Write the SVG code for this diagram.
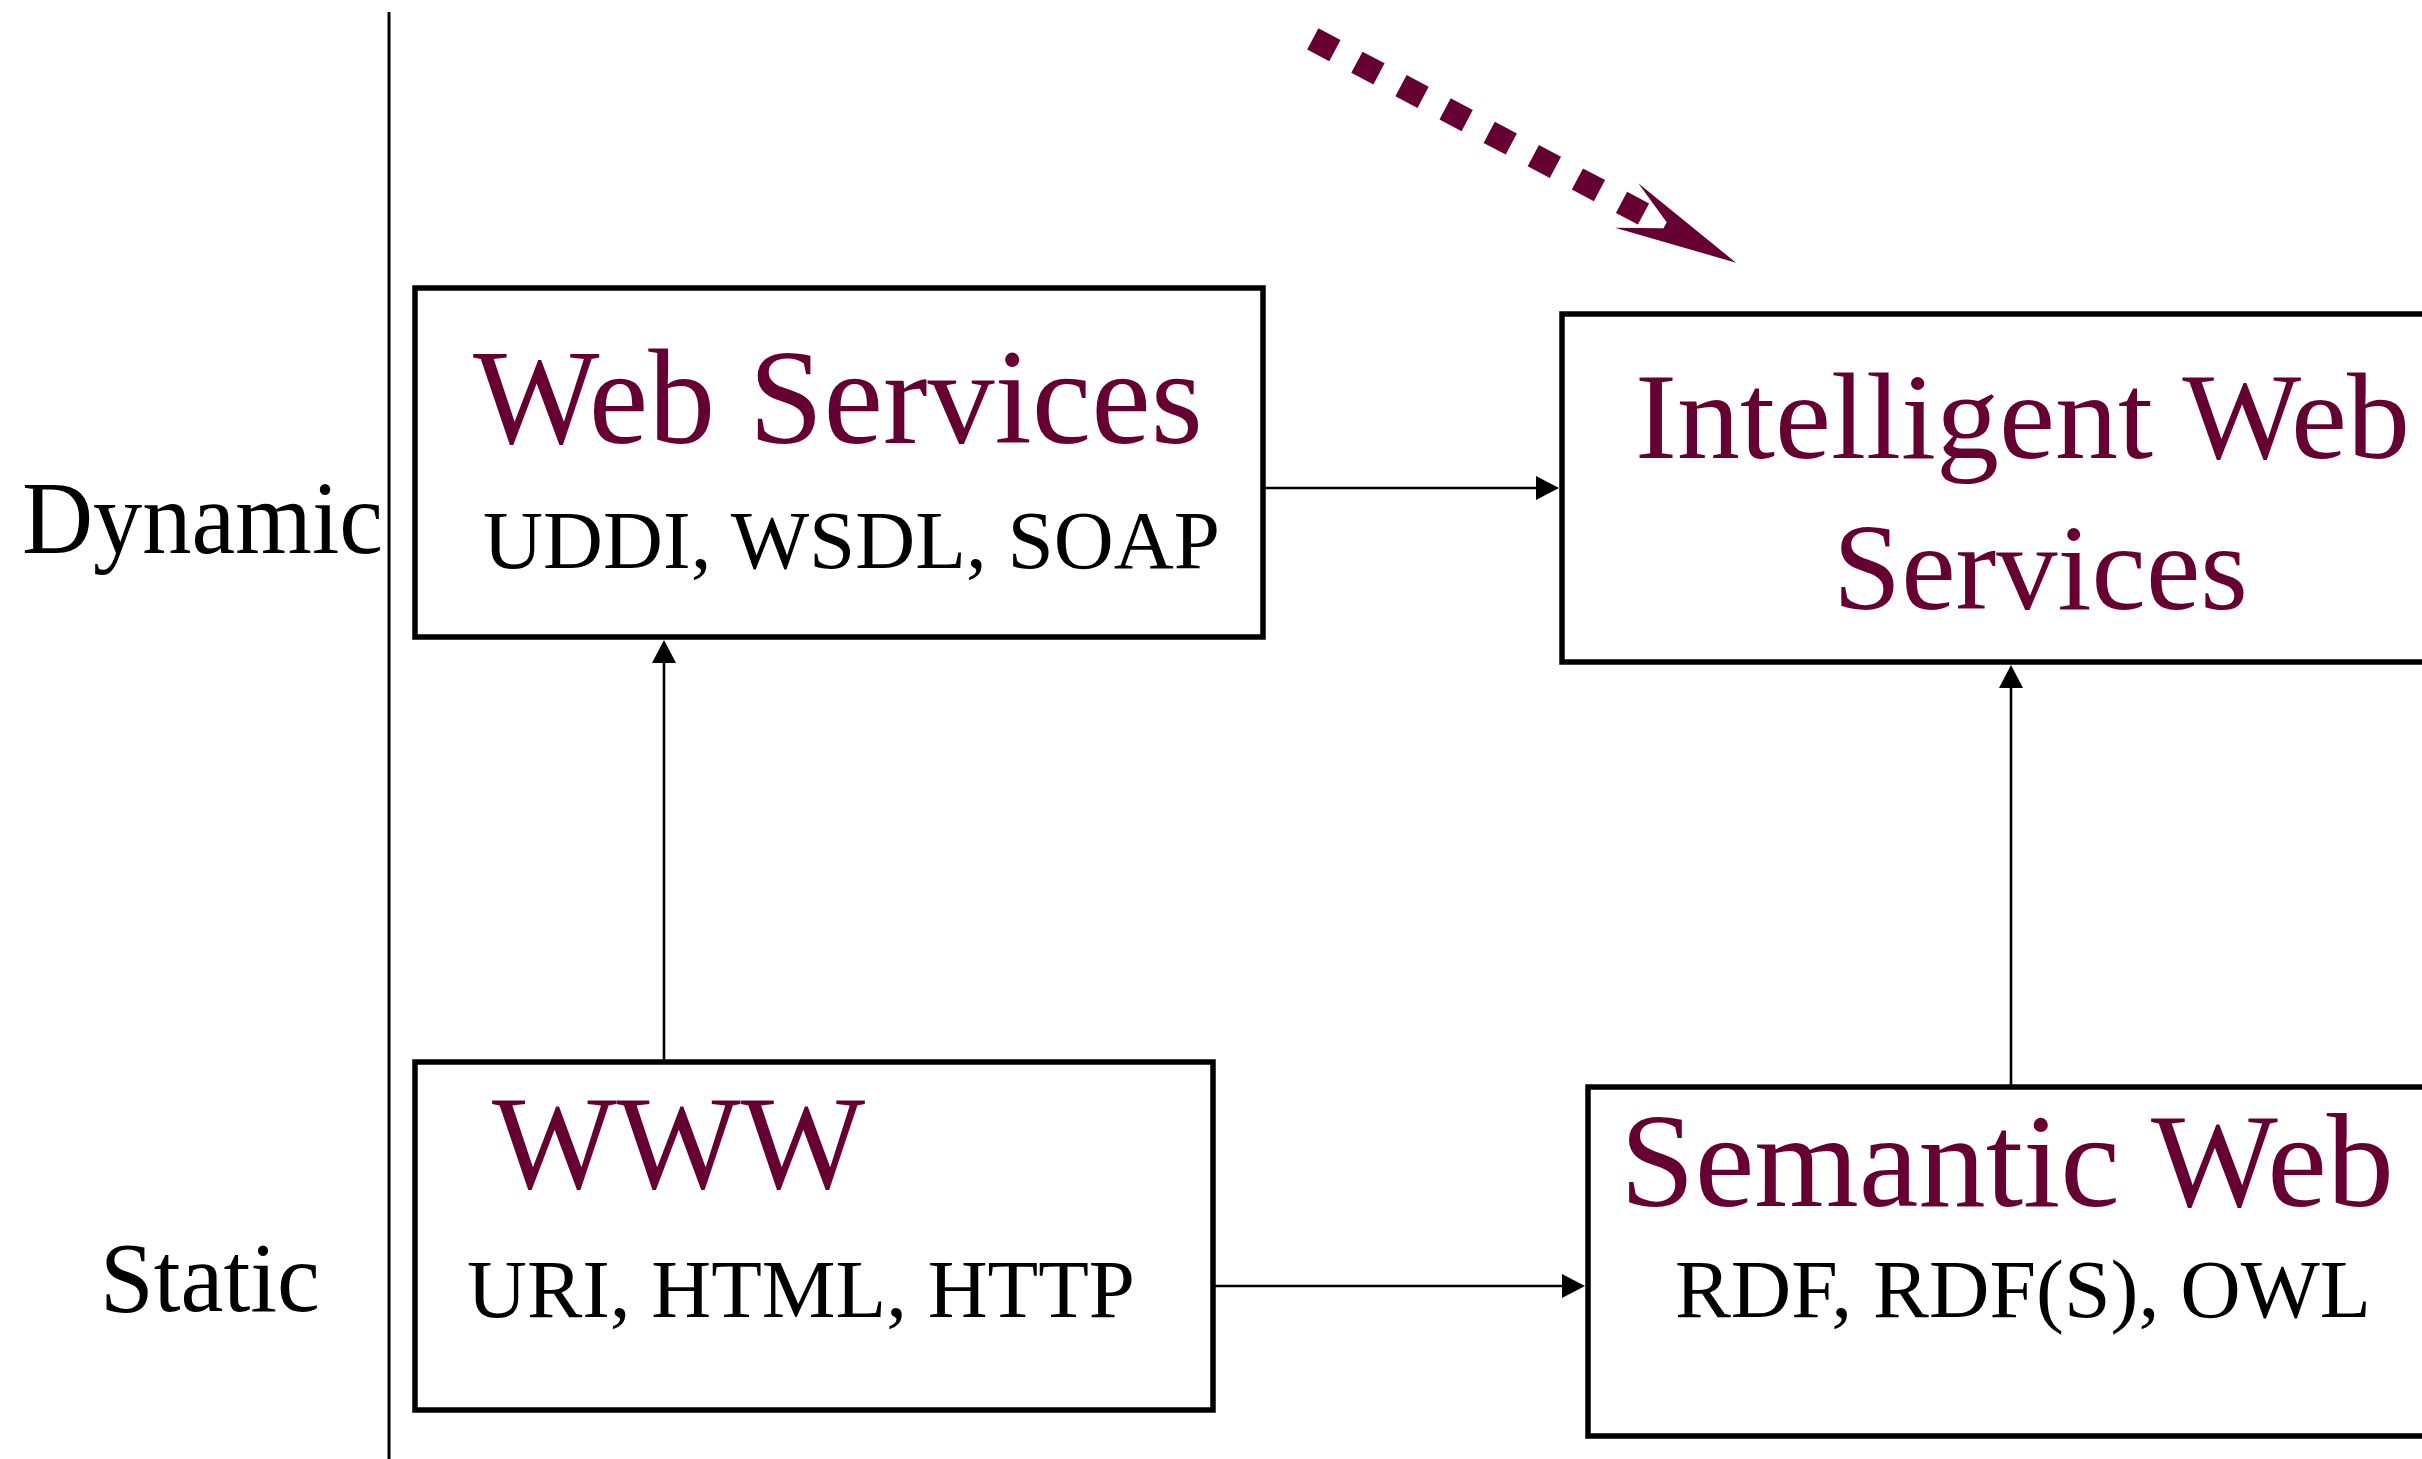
<svg xmlns="http://www.w3.org/2000/svg" width="2422" height="1459" viewBox="0 0 2422 1459">
<defs>
<style>
.box{fill:#ffffff;stroke:#000000;stroke-width:5.5}
.title{font-family:"Liberation Serif","Times New Roman",serif;fill:#660033}
.sub{font-family:"Liberation Serif","Times New Roman",serif;fill:#000000;font-size:83px}
.side{font-family:"Liberation Serif","Times New Roman",serif;fill:#000000}
.conn{stroke:#000000;stroke-width:2.6;fill:none}
.head{fill:#000000}
</style>
</defs>
<rect width="2422" height="1459" fill="#ffffff"/>
<g id="divider">
<line x1="389" y1="12" x2="389" y2="1459" stroke="#000" stroke-width="3"/>
</g>
<g id="label-dynamic">
<text class="side" x="22" y="553" font-size="104" textLength="361" lengthAdjust="spacingAndGlyphs">Dynamic</text>
</g>
<g id="label-static">
<text class="side" x="100" y="1311" font-size="100" textLength="220" lengthAdjust="spacingAndGlyphs">Static</text>
</g>
<g id="connectors">
<line class="conn" x1="664" y1="1062" x2="664" y2="660"/>
<polygon class="head" points="664,640 652,663 676,663"/>
<line class="conn" x1="1263" y1="488" x2="1539" y2="488"/>
<polygon class="head" points="1559,488 1536,476 1536,500"/>
<line class="conn" x1="1213" y1="1286" x2="1564" y2="1286"/>
<polygon class="head" points="1585,1286 1562,1274 1562,1298"/>
<line class="conn" x1="2011" y1="1087" x2="2011" y2="686"/>
<polygon class="head" points="2011,665 1999,688 2023,688"/>
</g>
<g id="node-web-services">
<rect class="box" x="415" y="288" width="848" height="349"/>
<text class="title" x="473" y="443" font-size="136" textLength="730" lengthAdjust="spacingAndGlyphs">Web Services</text>
<text class="sub" x="483" y="568" textLength="737" lengthAdjust="spacingAndGlyphs">UDDI, WSDL, SOAP</text>
</g>
<g id="node-intelligent">
<rect class="box" x="1562" y="314" width="900" height="348"/>
<text class="title" x="1635" y="458" font-size="123" textLength="775" lengthAdjust="spacingAndGlyphs">Intelligent Web</text>
<text class="title" x="1833" y="609" font-size="123" textLength="415" lengthAdjust="spacingAndGlyphs">Services</text>
</g>
<g id="node-www">
<rect class="box" x="415" y="1062" width="798" height="348"/>
<text class="title" x="492" y="1188" font-size="134" textLength="373" lengthAdjust="spacingAndGlyphs">WWW</text>
<text class="sub" x="467" y="1317" textLength="668" lengthAdjust="spacingAndGlyphs">URI, HTML, HTTP</text>
</g>
<g id="node-semantic">
<rect class="box" x="1588" y="1087" width="900" height="349"/>
<text class="title" x="1620" y="1206" font-size="134" textLength="774" lengthAdjust="spacingAndGlyphs">Semantic Web</text>
<text class="sub" x="1675" y="1317" textLength="696" lengthAdjust="spacingAndGlyphs">RDF, RDF(S), OWL</text>
</g>
<g id="evolution-arrow">
<line x1="1312.8" y1="38.9" x2="1643.5" y2="214" stroke="#660033" stroke-width="24" stroke-dasharray="25 24.9"/>
<polygon fill="#660033" points="1638.3,183.3 1666.7,222.2 1663.5,228.3 1615,227.7 1736,262.7"/>
</g>
</svg>
